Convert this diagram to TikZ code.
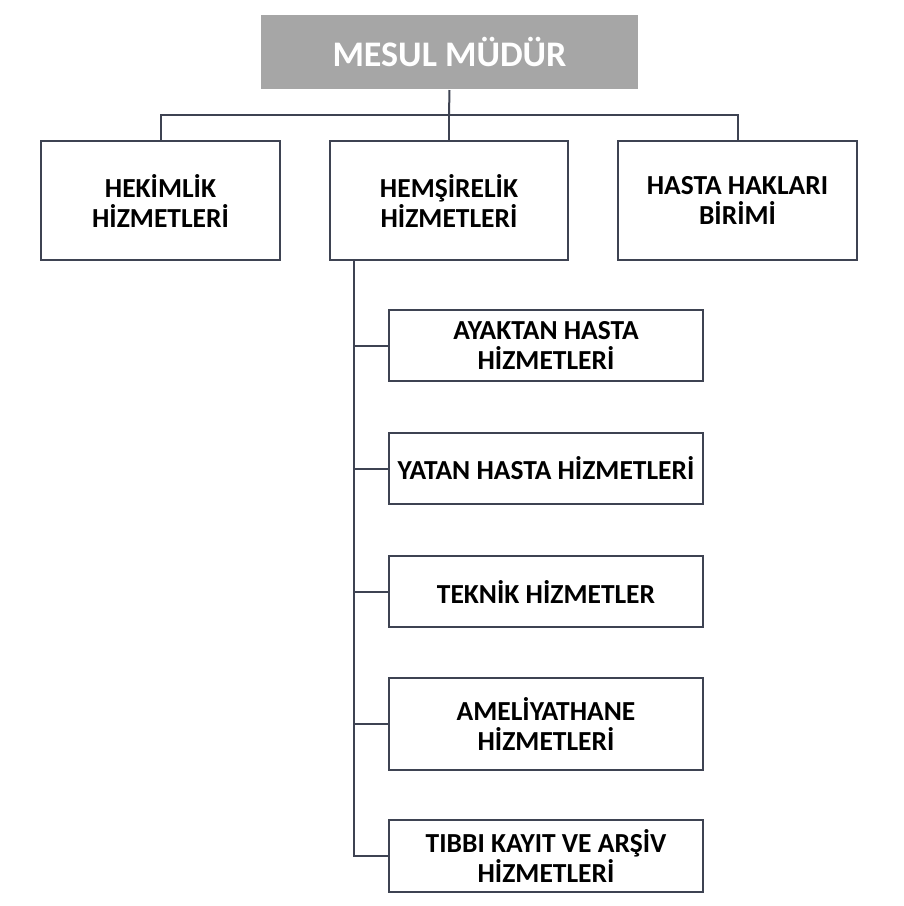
\documentclass[tikz,border=0pt]{standalone}
\usepackage{fontspec}
\setmainfont{Carlito}
\usetikzlibrary{positioning,calc}
\definecolor{linegray}{HTML}{3E4352}
\definecolor{headgray}{HTML}{A6A6A6}
\begin{document}
\begin{tikzpicture}[x=1pt,y=-1pt,line width=2pt]
	\tikzstyle{unit} = [rectangle, draw=linegray, fill=white, align=center, inner sep=0pt, font=\fontsize{27.5}{30}\selectfont\bfseries]
	\tikzstyle{head} = [rectangle, fill=headgray, text=white, align=center, inner sep=0pt, font=\fontsize{36}{40}\selectfont\bfseries]
	\tikzstyle{link} = [draw=linegray, line width=2pt]
	\useasboundingbox (0,0) rectangle (904,906);
	\node (mudur) [head, minimum width=377pt, minimum height=74pt] at (449.5,52) {MESUL MÜDÜR};
	\node (hekim) [unit, minimum width=239pt, minimum height=119pt] at (160.5,200.5) {HEKİMLİK\\HİZMETLERİ};
	\node (hemsire) [unit, minimum width=238pt, minimum height=119pt] at (449,200.5) {HEMŞİRELİK\\HİZMETLERİ};
	\node (hasta) [unit, minimum width=239pt, minimum height=119pt] at (737.5,200.5) {HASTA HAKLARI\\BİRİMİ};
	\node (ayaktan) [unit, minimum width=314pt, minimum height=71pt] at (546,345.5) {AYAKTAN HASTA\\HİZMETLERİ};
	\node (yatan) [unit, minimum width=314pt, minimum height=71pt] at (546,468.5) {YATAN HASTA HİZMETLERİ};
	\node (teknik) [unit, minimum width=314pt, minimum height=71pt] at (546,591.5) {TEKNİK HİZMETLER};
	\node (ameliyat) [unit, minimum width=314pt, minimum height=92pt] at (546,724) {AMELİYATHANE\\HİZMETLERİ};
	\node (arsiv) [unit, minimum width=314pt, minimum height=72pt] at (546,856) {TIBBI KAYIT VE ARŞİV\\HİZMETLERİ};

	\coordinate (bus) at (449,115);
	\draw [link] (mudur.south) -- (bus);
	\draw [link] (hekim.north) |- (bus) -| (hasta.north);
	\draw [link] (bus) -- (hemsire.north);
	\coordinate (trunk) at (354,260);
	\draw [link] (trunk) |- (arsiv.west);
	\foreach \sub in {ayaktan,yatan,teknik,ameliyat}
		\draw [link] (\sub.west) -- ($(\sub.west)+(-35,0)$);
\end{tikzpicture}
\end{document}
